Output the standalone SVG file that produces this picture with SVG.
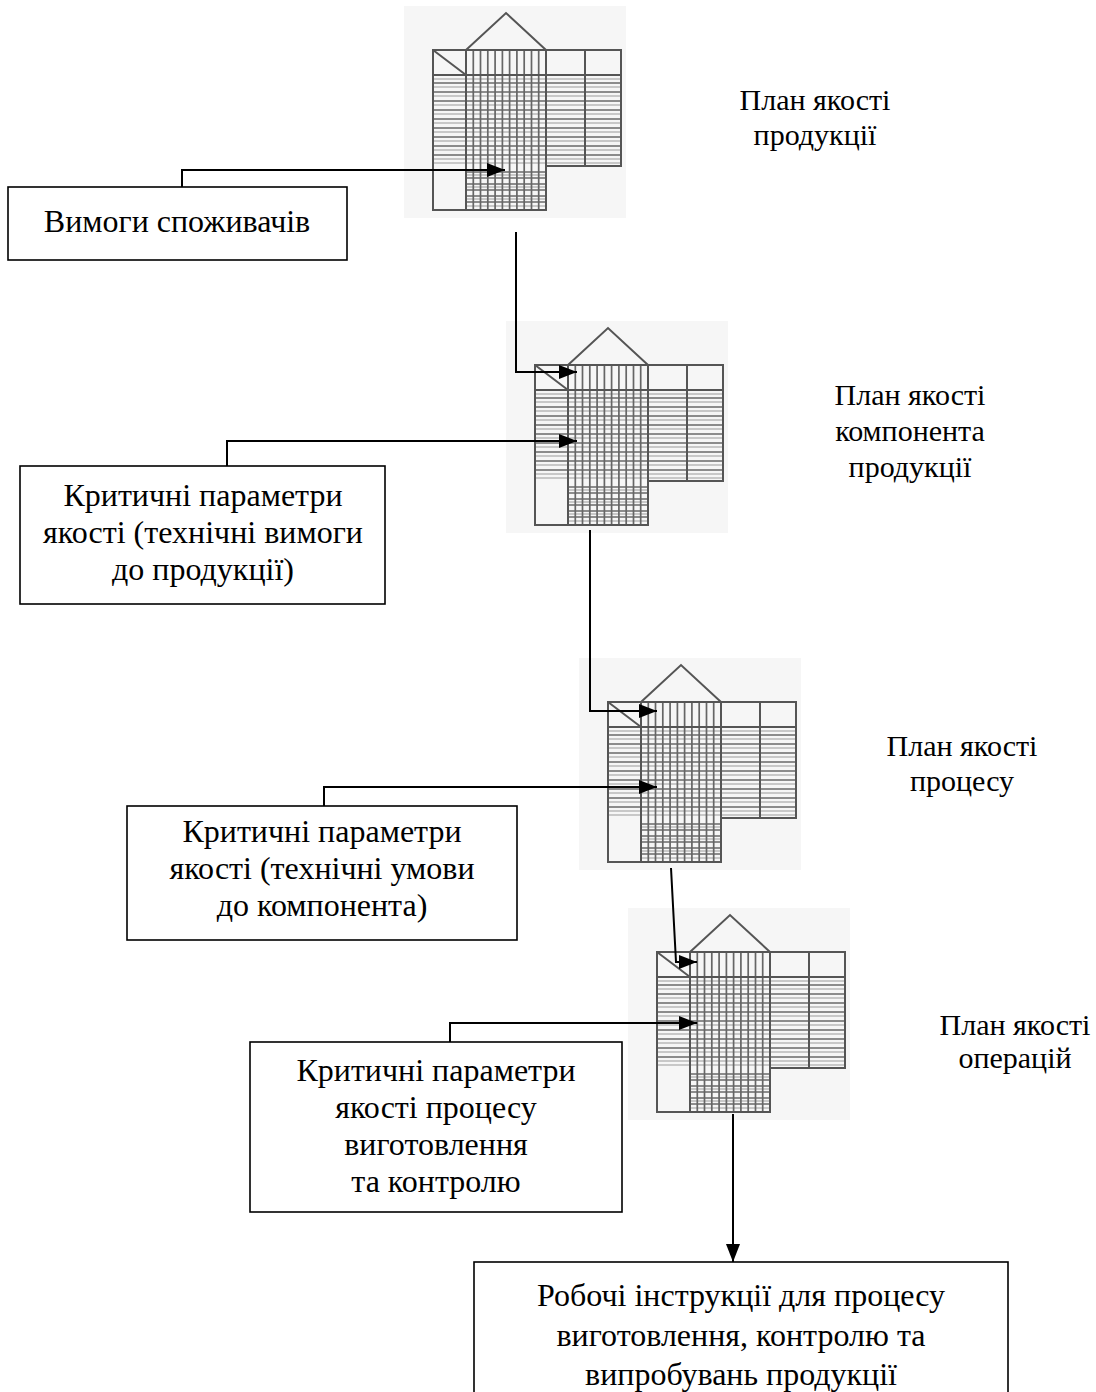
<svg xmlns="http://www.w3.org/2000/svg" xmlns:xlink="http://www.w3.org/1999/xlink" width="1096" height="1392" viewBox="0 0 1096 1392">
<style>
.box{fill:#fff;stroke:#000;stroke-width:1.6}
.t{font-family:"Liberation Serif","Times New Roman",serif;font-size:32px;fill:#000;text-anchor:middle}
.lb{font-family:"Liberation Serif","Times New Roman",serif;font-size:30px;fill:#000;text-anchor:middle}
.con{fill:none;stroke:#000;stroke-width:2}
.g{fill:none;stroke:#555;stroke-width:2}
.gv{fill:none;stroke:#666;stroke-width:1.7}
.gh{fill:none;stroke:#6a6a6a;stroke-width:1.5}
.gh2{fill:none;stroke:#999;stroke-width:1.2}
</style>
<defs>
<marker id="ah" viewBox="0 0 18 14" refX="18" refY="7" markerWidth="18" markerHeight="14" markerUnits="userSpaceOnUse" orient="auto">
<path d="M0,0 L18,7 L0,14 Z" fill="#000"/>
</marker>
<g id="hoq">
<rect x="-29" y="-44" width="222" height="212" fill="#f6f6f6"/>
<path class="g" d="M33,0 L73,-37 L113,0"/>
<path class="gh" d="M0,33H188M0,42H188M0,51H188M0,60H188M0,69H188M0,78H188M0,87H188M0,96H188M0,105H188"/>
<path class="gh2" d="M0,29H188M0,37H188M0,46H188M0,55H188M0,64H188M0,73H188M0,82H188M0,91H188M0,100H188M0,109H188M0,113H188"/>
<path class="gh" d="M33,122H113M33,128H113M33,134H113M33,140H113M33,146H113M33,152H113"/>
<path class="gh2" d="M33,125H113M33,137H113M33,149H113M33,156H113"/>
<path class="gv" d="M40.3,0V160M47.5,0V160M54.8,0V160M62.1,0V160M69.4,0V160M76.6,0V160M83.9,0V160M91.2,0V160M98.5,0V160M105.7,0V160"/>
<path class="g" d="M0,0 H188 V116 H113 V160 H0 Z"/>
<path class="g" d="M33,0 V160 M113,0 V116 M152,0 V116 M0,0 L33,25 M0,25 H188"/>
</g>
</defs>
<rect width="1096" height="1392" fill="#fff"/>

<g id="house1"><use xlink:href="#hoq" href="#hoq" transform="translate(433,50)"/></g>
<g id="house2"><use xlink:href="#hoq" href="#hoq" transform="translate(535,365)"/></g>
<g id="house3"><use xlink:href="#hoq" href="#hoq" transform="translate(608,702)"/></g>
<g id="house4"><use xlink:href="#hoq" href="#hoq" transform="translate(657,952)"/></g>

<g id="label1">
<text class="lb" x="815" y="110">План якості</text>
<text class="lb" x="815" y="145">продукції</text>
</g>
<g id="label2">
<text class="lb" x="910" y="405">План якості</text>
<text class="lb" x="910" y="441">компонента</text>
<text class="lb" x="910" y="477">продукції</text>
</g>
<g id="label3">
<text class="lb" x="962" y="756">План якості</text>
<text class="lb" x="962" y="791">процесу</text>
</g>
<g id="label4">
<text class="lb" x="1015" y="1035">План якості</text>
<text class="lb" x="1015" y="1068">операцій</text>
</g>

<g id="box1">
<rect class="box" x="8" y="187" width="339" height="73"/>
<text class="t" x="177" y="232">Вимоги споживачів</text>
</g>
<g id="box2">
<rect class="box" x="20" y="466" width="365" height="138"/>
<text class="t" x="203" y="506">Критичні параметри</text>
<text class="t" x="203" y="543">якості (технічні вимоги</text>
<text class="t" x="203" y="580">до продукції)</text>
</g>
<g id="box3">
<rect class="box" x="127" y="806" width="390" height="134"/>
<text class="t" x="322" y="842">Критичні параметри</text>
<text class="t" x="322" y="879">якості (технічні умови</text>
<text class="t" x="322" y="916">до компонента)</text>
</g>
<g id="box4">
<rect class="box" x="250" y="1042" width="372" height="170"/>
<text class="t" x="436" y="1081">Критичні параметри</text>
<text class="t" x="436" y="1118">якості процесу</text>
<text class="t" x="436" y="1155">виготовлення</text>
<text class="t" x="436" y="1192">та контролю</text>
</g>
<g id="box5">
<rect class="box" x="474" y="1262" width="534" height="140"/>
<text class="t" x="741" y="1306">Робочі інструкції для процесу</text>
<text class="t" x="741" y="1346">виготовлення, контролю та</text>
<text class="t" x="741" y="1385">випробувань продукції</text>
</g>

<g id="connectors">
<path class="con" d="M182,187 V170 H505" marker-end="url(#ah)"/>
<path class="con" d="M516,232 V372 H577" marker-end="url(#ah)"/>
<path class="con" d="M227,466 V441 H577" marker-end="url(#ah)"/>
<path class="con" d="M590,530 V711 H657" marker-end="url(#ah)"/>
<path class="con" d="M324,806 V787 H657" marker-end="url(#ah)"/>
<path class="con" d="M671,868 L676,962 H697" marker-end="url(#ah)"/>
<path class="con" d="M450,1042 V1023 H697" marker-end="url(#ah)"/>
<path class="con" d="M733,1114 V1262" marker-end="url(#ah)"/>
</g>
</svg>
